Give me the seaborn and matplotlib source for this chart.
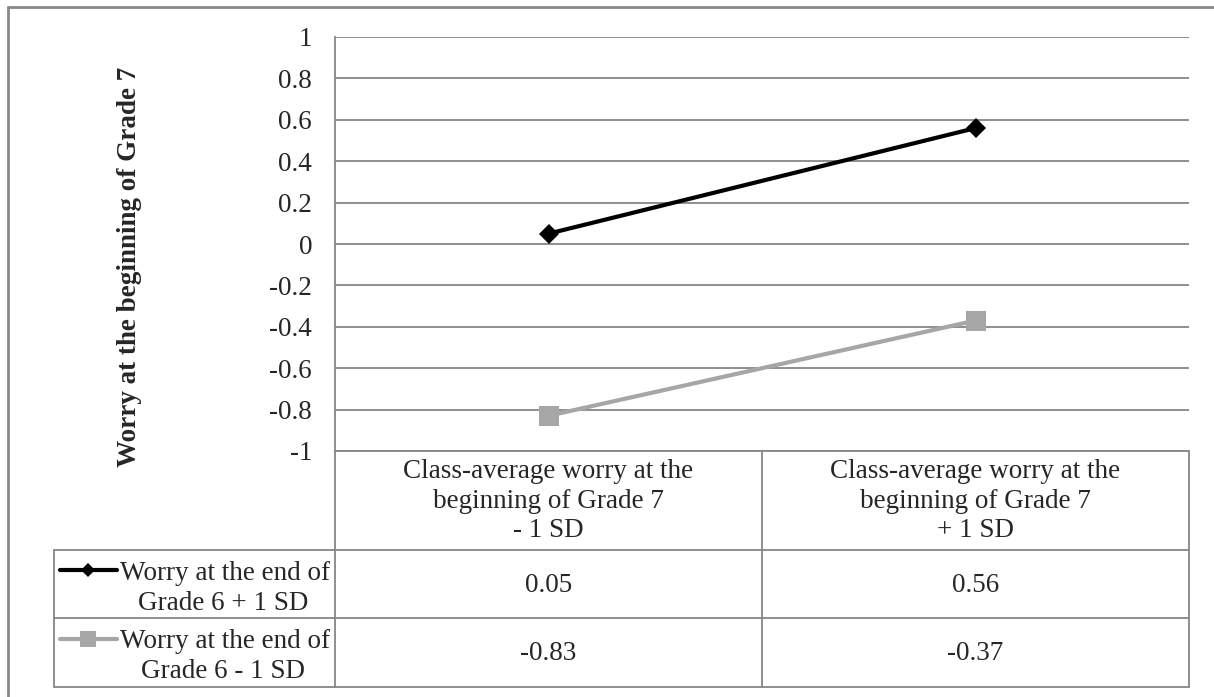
import matplotlib
matplotlib.use("Agg")
import matplotlib.pyplot as plt
from matplotlib.lines import Line2D
import seaborn as sns
import pandas as pd

# Data
categories = ["Class-average worry at the\nbeginning of Grade 7\n- 1 SD",
              "Class-average worry at the\nbeginning of Grade 7\n+ 1 SD"]
series_names = ["Worry at the end of\nGrade 6 + 1 SD",
                "Worry at the end of\nGrade 6 - 1 SD"]
high_worry = [0.05, 0.56]
low_worry = [-0.83, -0.37]
value_labels = [["0.05", "0.56"], ["-0.83", "-0.37"]]
y_ticks = [1, 0.8, 0.6, 0.4, 0.2, 0, -0.2, -0.4, -0.6, -0.8, -1]
y_tick_labels = ["1", "0.8", "0.6", "0.4", "0.2", "0", "-0.2", "-0.4", "-0.6", "-0.8", "-1"]
y_title = "Worry at the beginning of Grade 7"

df = pd.DataFrame({
    "pos": [0, 1, 0, 1],
    "value": high_worry + low_worry,
    "series": [series_names[0]] * 2 + [series_names[1]] * 2,
})

sns.set_style("white")
plt.rcParams["font.family"] = ["Liberation Serif", "DejaVu Serif"]

FS = 19.5
W, H = 1214, 697
fig = plt.figure(figsize=(W / 100, H / 100), dpi=100)

def fx(px):
    return px / W

def fy(py):
    return 1 - py / H

grid_col = "#868686"
frame_col = "#888888"
colors = {series_names[0]: "#000000", series_names[1]: "#A6A6A6"}
markers = {series_names[0]: "D", series_names[1]: "s"}
plot_msize = {"D": 10, "s": 14.5}
key_msize = {"D": 7, "s": 12}

left, right, top, bottom = 335, 1189, 37, 451
ax = fig.add_axes([fx(left), fy(bottom), fx(right - left), (bottom - top) / H])

sns.lineplot(data=df, x="pos", y="value", hue="series", style="series",
             palette=colors, markers=markers, dashes=False, linewidth=3.0,
             markeredgewidth=0, legend=False, ax=ax)
for ln in ax.lines:
    m = ln.get_marker()
    if m in plot_msize:
        ln.set_markersize(plot_msize[m])

ax.set_xlim(-0.5, 1.5)
ax.set_ylim(-1, 1)
ax.set_yticks(y_ticks)
ax.set_yticklabels(y_tick_labels, fontsize=FS)
ax.set_xticks([])
ax.set_xlabel("")
ax.set_ylabel("")
ax.tick_params(axis="y", length=0, pad=16.5)
for yv in y_ticks:
    ax.axhline(yv, color=grid_col, lw=1.3, zorder=0)
for s in ["top", "right", "bottom"]:
    ax.spines[s].set_visible(False)
ax.spines["left"].set_color(grid_col)
ax.spines["left"].set_linewidth(1.3)

fig.text(fx(129), fy(267), y_title, rotation=90, ha="center", va="center",
         fontsize=FS, fontweight="bold")

# Data table below the plot
def hline(x0, x1, y):
    fig.add_artist(Line2D([fx(x0), fx(x1)], [fy(y), fy(y)], color=grid_col, lw=1.3))

def vline(x, y0, y1):
    fig.add_artist(Line2D([fx(x), fx(x)], [fy(y0), fy(y1)], color=grid_col, lw=1.3))

row_tops = [451, 550, 618, 687]
mid = (left + right) / 2
col_centers = [(left + mid) / 2, (mid + right) / 2]
hline(left, right, 451)
hline(54, right, 550)
hline(54, right, 618)
hline(54, right, 687)
vline(54, 550, 687)
vline(left, 451, 687)
vline(mid, 451, 687)
vline(right, 451, 687)

for cx, cat in zip(col_centers, categories):
    fig.text(fx(cx), fy(501), cat, ha="center", va="center", fontsize=FS,
             linespacing=1.22, multialignment="center")

for i, name in enumerate(series_names):
    y0, y1 = row_tops[i + 1], row_tops[i + 2]
    yc = (y0 + y1) / 2
    l1, l2 = name.split("\n")
    fig.text(fx(120), fy(yc - 11), l1, ha="left", va="center", fontsize=FS)
    fig.text(fx(223), fy(yc + 19), l2, ha="center", va="center", fontsize=FS)
    col = colors[name]
    m = markers[name]
    fig.add_artist(Line2D([fx(60), fx(117)], [fy(yc - 14)] * 2, color=col, lw=3.0))
    fig.add_artist(Line2D([fx(88)], [fy(yc - 14)], color=col, lw=0, marker=m,
                          markersize=key_msize[m], markeredgewidth=0))
    for cx, txt in zip(col_centers, value_labels[i]):
        fig.text(fx(cx), fy(yc + 1), txt, ha="center", va="center", fontsize=FS)

# Outer chart frame
fig.add_artist(Line2D([fx(8), fx(8)], [fy(7), fy(H + 5)], color=frame_col, lw=2))
fig.add_artist(Line2D([fx(8), fx(W + 5)], [fy(7), fy(7)], color=frame_col, lw=2))

fig.savefig("out.png", dpi=100)
